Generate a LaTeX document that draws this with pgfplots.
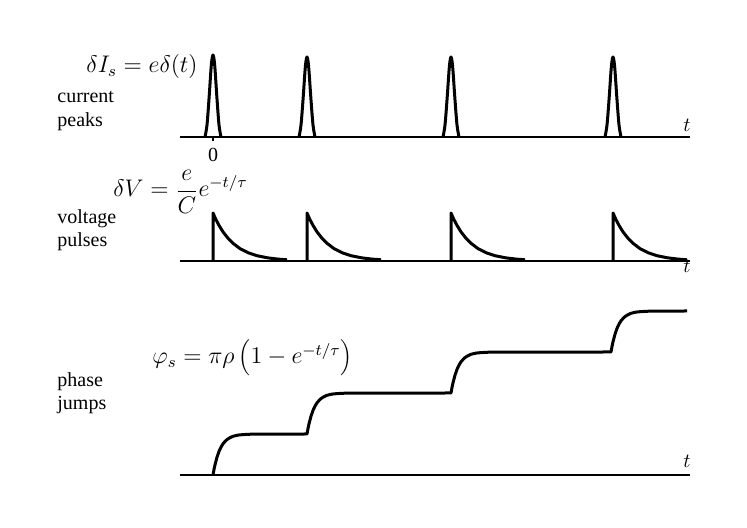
\documentclass[border=0pt]{standalone}
\usepackage{fontspec}
\setmainfont{Liberation Serif}
\usepackage{pgfplots}
\pgfplotsset{compat=1.18}

\pgfplotsset{
  panel/.style={x=0.5pt,y=0.5pt,xmin=180,xmax=690,ymin=0,clip=false,
    axis y line=none,axis x line*=bottom,
    axis line style={line width=0.7pt,black},
    xtick=\empty,anchor=south west},
  curve/.style={black,line width=1.5pt,line join=round,no marks},
}
\tikzset{lbl/.style={anchor=base west,inner sep=0pt,font=\fontsize{10}{12}\selectfont},
  eq/.style={inner sep=0pt,font=\large}}

\begin{document}
\begin{tikzpicture}
\path[use as bounding box] (0,0) rectangle (373.5pt,264pt);

% current peaks
\begin{axis}[panel,at={(90pt,195.5pt)},ymax=90,
  xtick={213},xticklabels={\textup{0}},major tick length=2pt,tick align=outside,
  tick style={line width=0.6pt,black}]
\addplot[curve,smooth] coordinates {(205,0)(207,12)(209,38)(211,68)(212,78)(213,82)(214,78)(215,68)(217,38)(219,12)(221,0)};
\addplot[curve,smooth] coordinates {(299,0)(301,12)(303,37)(305,66)(306,76)(307,80)(308,76)(309,66)(311,37)(313,12)(315,0)};
\addplot[curve,smooth] coordinates {(443,0)(445,12)(447,37)(449,66)(450,76)(451,80)(452,76)(453,66)(455,37)(457,12)(459,0)};
\addplot[curve,smooth] coordinates {(605,0)(607,12)(609,37)(611,66)(612,76)(613,80)(614,76)(615,66)(617,37)(619,12)(621,0)};
\node[eq,anchor=base east] at (axis cs:198,64) {$\delta I_s = e\delta(t)$};
\node[lbl] at (axis cs:57,34) {current};
\node[lbl] at (axis cs:57,10) {peaks};
\node[inner sep=0pt,anchor=base] at (axis cs:687,5) {$t$};
\end{axis}

% voltage pulses
\begin{axis}[panel,at={(90pt,133.5pt)},ymax=60]
\addplot[curve] coordinates {(213,0)(213,48)(214,45.7)(215,43.4)(216,41.3)(219,35.6)(223,29.1)(228,22.7)(233,17.7)(240,12.4)(248,8.3)(257,5.3)(268,3.1)(278,1.9)(287,1.2)};
\addplot[curve] coordinates {(307,0)(307,48)(308,45.7)(309,43.4)(310,41.3)(313,35.6)(317,29.1)(322,22.7)(327,17.7)(334,12.4)(342,8.3)(351,5.3)(362,3.1)(372,1.9)(381,1.2)};
\addplot[curve] coordinates {(451,0)(451,48)(452,45.7)(453,43.4)(454,41.3)(457,35.6)(461,29.1)(466,22.7)(471,17.7)(478,12.4)(486,8.3)(495,5.3)(506,3.1)(516,1.9)(525,1.2)};
\addplot[curve] coordinates {(613,0)(613,48)(614,45.7)(615,43.4)(616,41.3)(619,35.6)(623,29.1)(628,22.7)(633,17.7)(640,12.4)(648,8.3)(657,5.3)(668,3.1)(678,1.9)(687,1.2)};
\node[eq,anchor=base west] at (axis cs:113,64) {$\displaystyle \delta V = \frac{e}{C}e^{-t/\tau}$};
\node[lbl] at (axis cs:57,37) {voltage};
\node[lbl] at (axis cs:57,14) {pulses};
\node[inner sep=0pt,anchor=base] at (axis cs:687,-12) {$t$};
\end{axis}

% phase jumps
\begin{axis}[panel,at={(90pt,26.5pt)},ymax=170]
\addplot[curve] coordinates {(213,0)(214,5.5)(215,10.2)(217,17.8)(219,23.6)(221,27.9)(223,31.2)(226,34.6)(229,36.8)(233,38.7)(238,39.9)(243,40.4)(253,40.9)(307,41)
(308,46.5)(309,51.2)(311,58.8)(313,64.6)(315,68.9)(317,72.2)(320,75.6)(323,77.8)(327,79.7)(332,80.9)(337,81.4)(347,81.9)(451,82)
(452,87.5)(453,92.2)(455,99.8)(457,105.6)(459,109.9)(461,113.2)(464,116.6)(467,118.8)(471,120.7)(476,121.9)(481,122.4)(491,122.9)(611,123)
(612,128.5)(613,133.2)(615,140.8)(617,146.6)(619,150.9)(621,154.2)(624,157.6)(627,159.8)(631,161.7)(636,162.9)(641,163.4)(651,163.9)(687,164)};
\node[eq,anchor=base west] at (axis cs:152,111) {$\varphi_s = \pi\rho\left(1 - e^{-t/\tau}\right)$};
\node[lbl] at (axis cs:57,88) {phase};
\node[lbl] at (axis cs:57,65) {jumps};
\node[inner sep=0pt,anchor=base] at (axis cs:687,7) {$t$};
\end{axis}
\end{tikzpicture}
\end{document}
